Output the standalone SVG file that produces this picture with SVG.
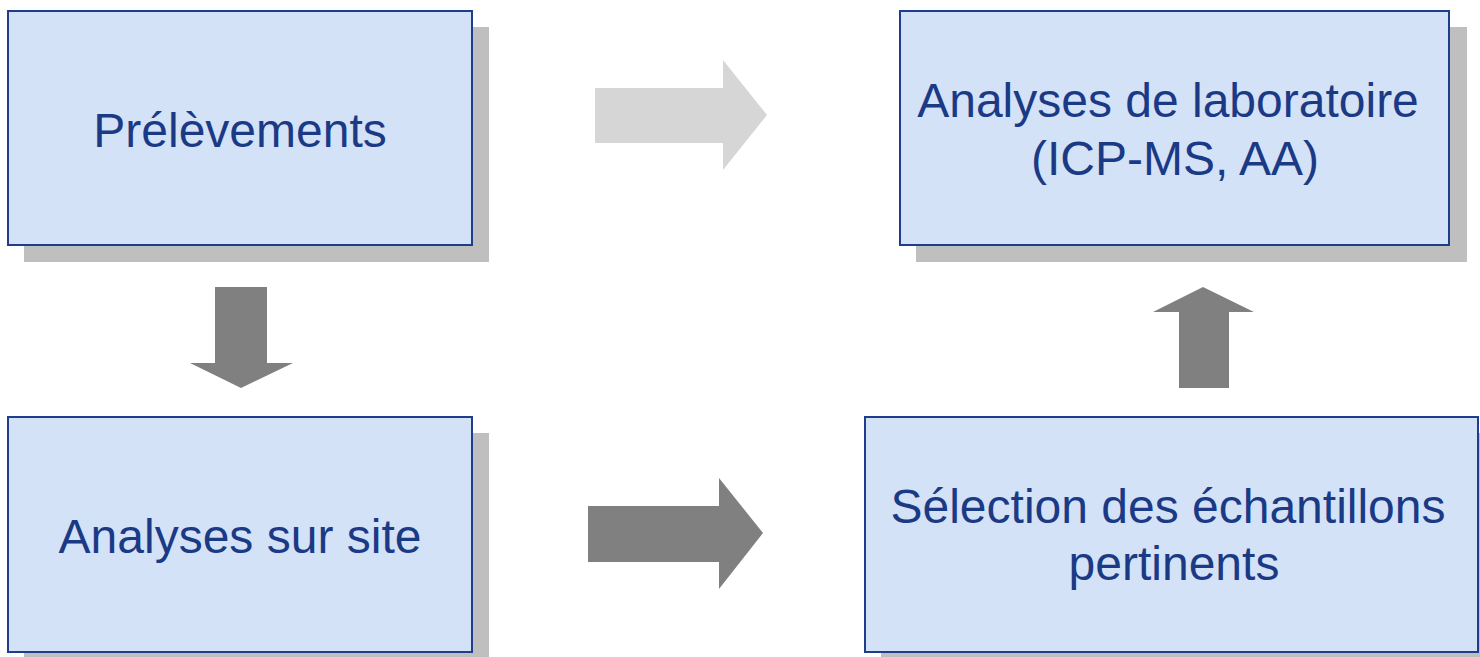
<svg xmlns="http://www.w3.org/2000/svg" width="1480" height="657" viewBox="0 0 1480 657">
<style>
.shadow{fill:#bfbfbf}
.box{fill:#d4e2f7;stroke:#1f3d8c;stroke-width:2}
.lbl{font-family:"Liberation Sans",Arial,sans-serif;font-size:48px;fill:#1b3a86;text-anchor:middle}
.dark{fill:#808080}
.light{fill:#d6d6d6}
</style>
<rect width="1480" height="657" fill="#ffffff"/>
<g id="node-prelevements">
<rect class="shadow" x="24" y="27" width="465" height="235"/>
<rect class="box" x="8" y="11" width="464" height="234"/>
<text class="lbl" x="240" y="147">Prélèvements</text>
</g>
<g id="node-analyses-site">
<rect class="shadow" x="24" y="433" width="465" height="235"/>
<rect class="box" x="8" y="417" width="464" height="235"/>
<text class="lbl" x="240" y="553">Analyses sur site</text>
</g>
<g id="node-laboratoire">
<rect class="shadow" x="916" y="27" width="551" height="235"/>
<rect class="box" x="900" y="11" width="549" height="234"/>
<text class="lbl" x="1168" y="117">Analyses de laboratoire</text>
<text class="lbl" x="1175" y="175">(ICP-MS, AA)</text>
</g>
<g id="node-selection">
<rect class="shadow" x="881" y="433" width="620" height="235"/>
<rect class="box" x="865" y="417" width="613" height="235"/>
<text class="lbl" x="1168" y="523">Sélection des échantillons</text>
<text class="lbl" x="1174" y="580">pertinents</text>
</g>
<g id="connectors">
<polygon class="light" points="595,88 723,88 723,60 767,115 723,170 723,143 595,143"/>
<polygon class="dark" points="588,506 719,506 719,478 763,533 719,589 719,562 588,562"/>
<polygon class="dark" points="215,287 267,287 267,363 293,363 241,388 190,363 215,363"/>
<polygon class="dark" points="1203,287 1254,312 1229,312 1229,388 1179,388 1179,312 1153,312"/>
</g>
</svg>
